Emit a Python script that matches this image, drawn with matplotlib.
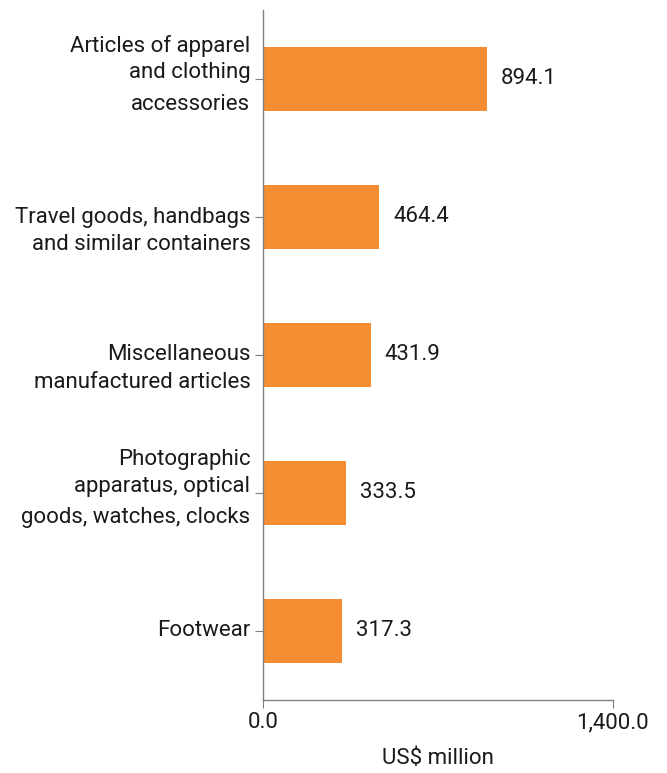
import matplotlib
matplotlib.use("Agg")
import matplotlib.pyplot as plt

plt.rcParams['font.family'] = ['Roboto', 'DejaVu Sans']

categories = [
    ["Articles of apparel", "and clothing", "accessories"],
    ["Travel goods, handbags", "and similar containers"],
    ["Miscellaneous", "manufactured articles"],
    ["Photographic", "apparatus, optical", "goods, watches, clocks"],
    ["Footwear"],
]
values = [894.1, 464.4, 431.9, 333.5, 317.3]
xticks = [0.0, 1400.0]
xtick_labels = ["0.0", "1,400.0"]
xlabel = "US$ million"

BAR = "#F58D33"
AX = "#808080"
TXT = "#1a1a1a"
FS = 16

W, H = 667, 773
fig = plt.figure(figsize=(W / 100, H / 100), dpi=100)
ax = fig.add_axes([263 / W, 73 / H, 350 / W, 690 / H])

ypos = list(range(len(values)))
ax.barh(ypos, values, height=0.46, color=BAR)
ax.set_ylim(len(values) - 0.5, -0.5)
ax.set_xlim(0, 1400)

for s in ['top', 'right']:
    ax.spines[s].set_visible(False)
for s in ['left', 'bottom']:
    ax.spines[s].set_color(AX)
    ax.spines[s].set_linewidth(1.0)

ax.set_xticks(xticks)
ax.set_xticklabels(xtick_labels, fontsize=FS, color=TXT)
ax.tick_params(axis='x', length=6, color=AX, pad=3)
ax.set_yticks(ypos)
ax.set_yticklabels([""] * len(ypos))
ax.tick_params(axis='y', length=6, color=AX)
ax.set_xlabel(xlabel, fontsize=FS, color=TXT, labelpad=10.5)

# multiline category labels, line offsets (points) relative to tick
offsets = {
    1: [0],
    2: [0, -19.5],
    3: [23.8, 5, -18],
}
for i, lines in enumerate(categories):
    for line, off in zip(lines, offsets[len(lines)]):
        ax.annotate(line, xy=(0, i), xycoords=('axes fraction', 'data'),
                    xytext=(-9, off), textcoords='offset points',
                    ha='right', va='center', fontsize=FS, color=TXT)

for i, v in enumerate(values):
    ax.annotate(f"{v:.1f}", xy=(v, i), xytext=(10, 0), textcoords='offset points',
                ha='left', va='center', fontsize=FS, color=TXT)

fig.savefig("out.png", dpi=100)
